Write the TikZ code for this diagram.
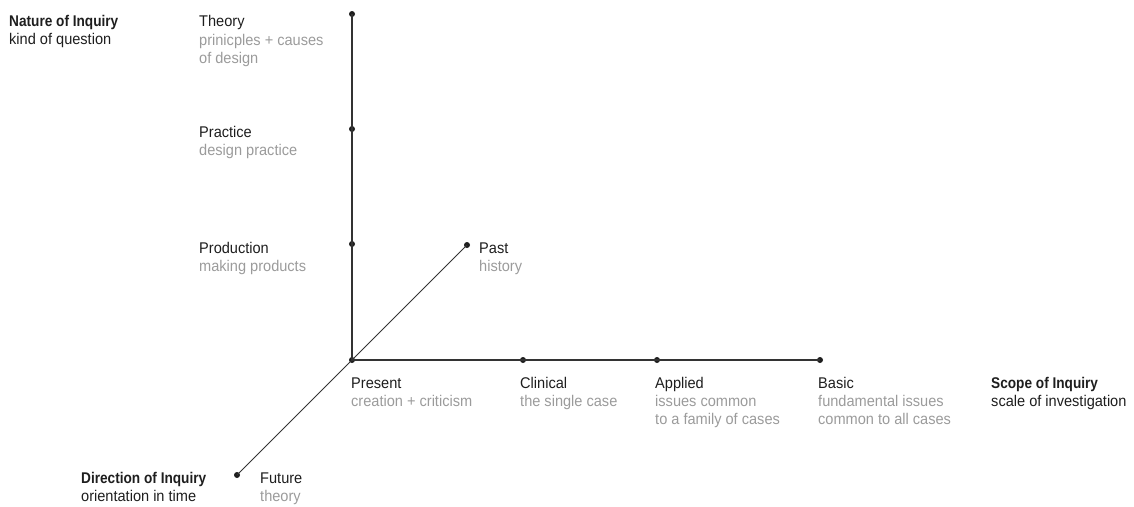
\documentclass[tikz,border=0pt]{standalone}
\usepackage{fontspec}
\setmainfont[FakeStretch=0.94,BoldFeatures={FakeStretch=0.88}]{Liberation Sans}
\definecolor{ink}{HTML}{1E1E1E}
\definecolor{soft}{HTML}{9B9B9B}
\definecolor{axis}{HTML}{333333}
\newcommand{\lbl}[2]{\begin{tabular}[t]{@{}l@{}}#1\\#2\end{tabular}}
\newcommand{\sft}[1]{\textcolor{soft}{#1}}
\newcommand{\ttl}[2]{\begin{tabular}[t]{@{}l@{}}\textbf{#1}\\#2\end{tabular}}
\begin{document}
\begin{tikzpicture}[x=1pt,y=-1pt,
  dot/.style={circle,fill=ink,inner sep=0pt,minimum size=6pt},
  txt/.style={anchor=base west,inner sep=0pt,text=ink,font=\fontsize{15.5}{18}\selectfont},
  axisline/.style={draw=axis,line width=1.2pt}]
\useasboundingbox (0,0) rectangle (1134,506);
% dots
\node[dot] (origin) at (352,360) {};
\node[dot] (theory) at (352,14) {};
\node[dot] (practice) at (352,129) {};
\node[dot] (production) at (352,244) {};
\node[dot] (past) at (467,245) {};
\node[dot] (future) at (237,475) {};
\node[dot] (clinical) at (523,360) {};
\node[dot] (applied) at (657,360) {};
\node[dot] (basic) at (820,360) {};
% axes
\draw[axisline] (origin.center) -- (theory.center);
\draw[axisline] (origin.center) -- (basic.center);
\draw[axisline,line width=0.9pt] (future.center) -- (past.center);
% labels
\node[txt] (tnature) at (9,26) {\ttl{Nature of Inquiry}{kind of question}};
\node[txt] (ttheory) at (199,27) {\lbl{Theory}{\sft{prinicples + causes}\\\sft{of design}}};
\node[txt] (tpractice) at (199,137) {\lbl{Practice}{\sft{design practice}}};
\node[txt] (tproduction) at (199,253) {\lbl{Production}{\sft{making products}}};
\node[txt] (tpast) at (479,253) {\lbl{Past}{\sft{history}}};
\node[txt] (tpresent) at (351,388) {\lbl{Present}{\sft{creation + criticism}}};
\node[txt] (tclinical) at (520,388) {\lbl{Clinical}{\sft{the single case}}};
\node[txt] (tapplied) at (655,388) {\lbl{Applied}{\sft{issues common}\\\sft{to a family of cases}}};
\node[txt] (tbasic) at (818,388) {\lbl{Basic}{\sft{fundamental issues}\\\sft{common to all cases}}};
\node[txt] (tscope) at (991,388) {\ttl{Scope of Inquiry}{scale of investigation}};
\node[txt] (tdirection) at (81,483) {\ttl{Direction of Inquiry}{orientation in time}};
\node[txt] (tfuture) at (260,483) {\lbl{Future}{\sft{theory}}};
\end{tikzpicture}
\end{document}
